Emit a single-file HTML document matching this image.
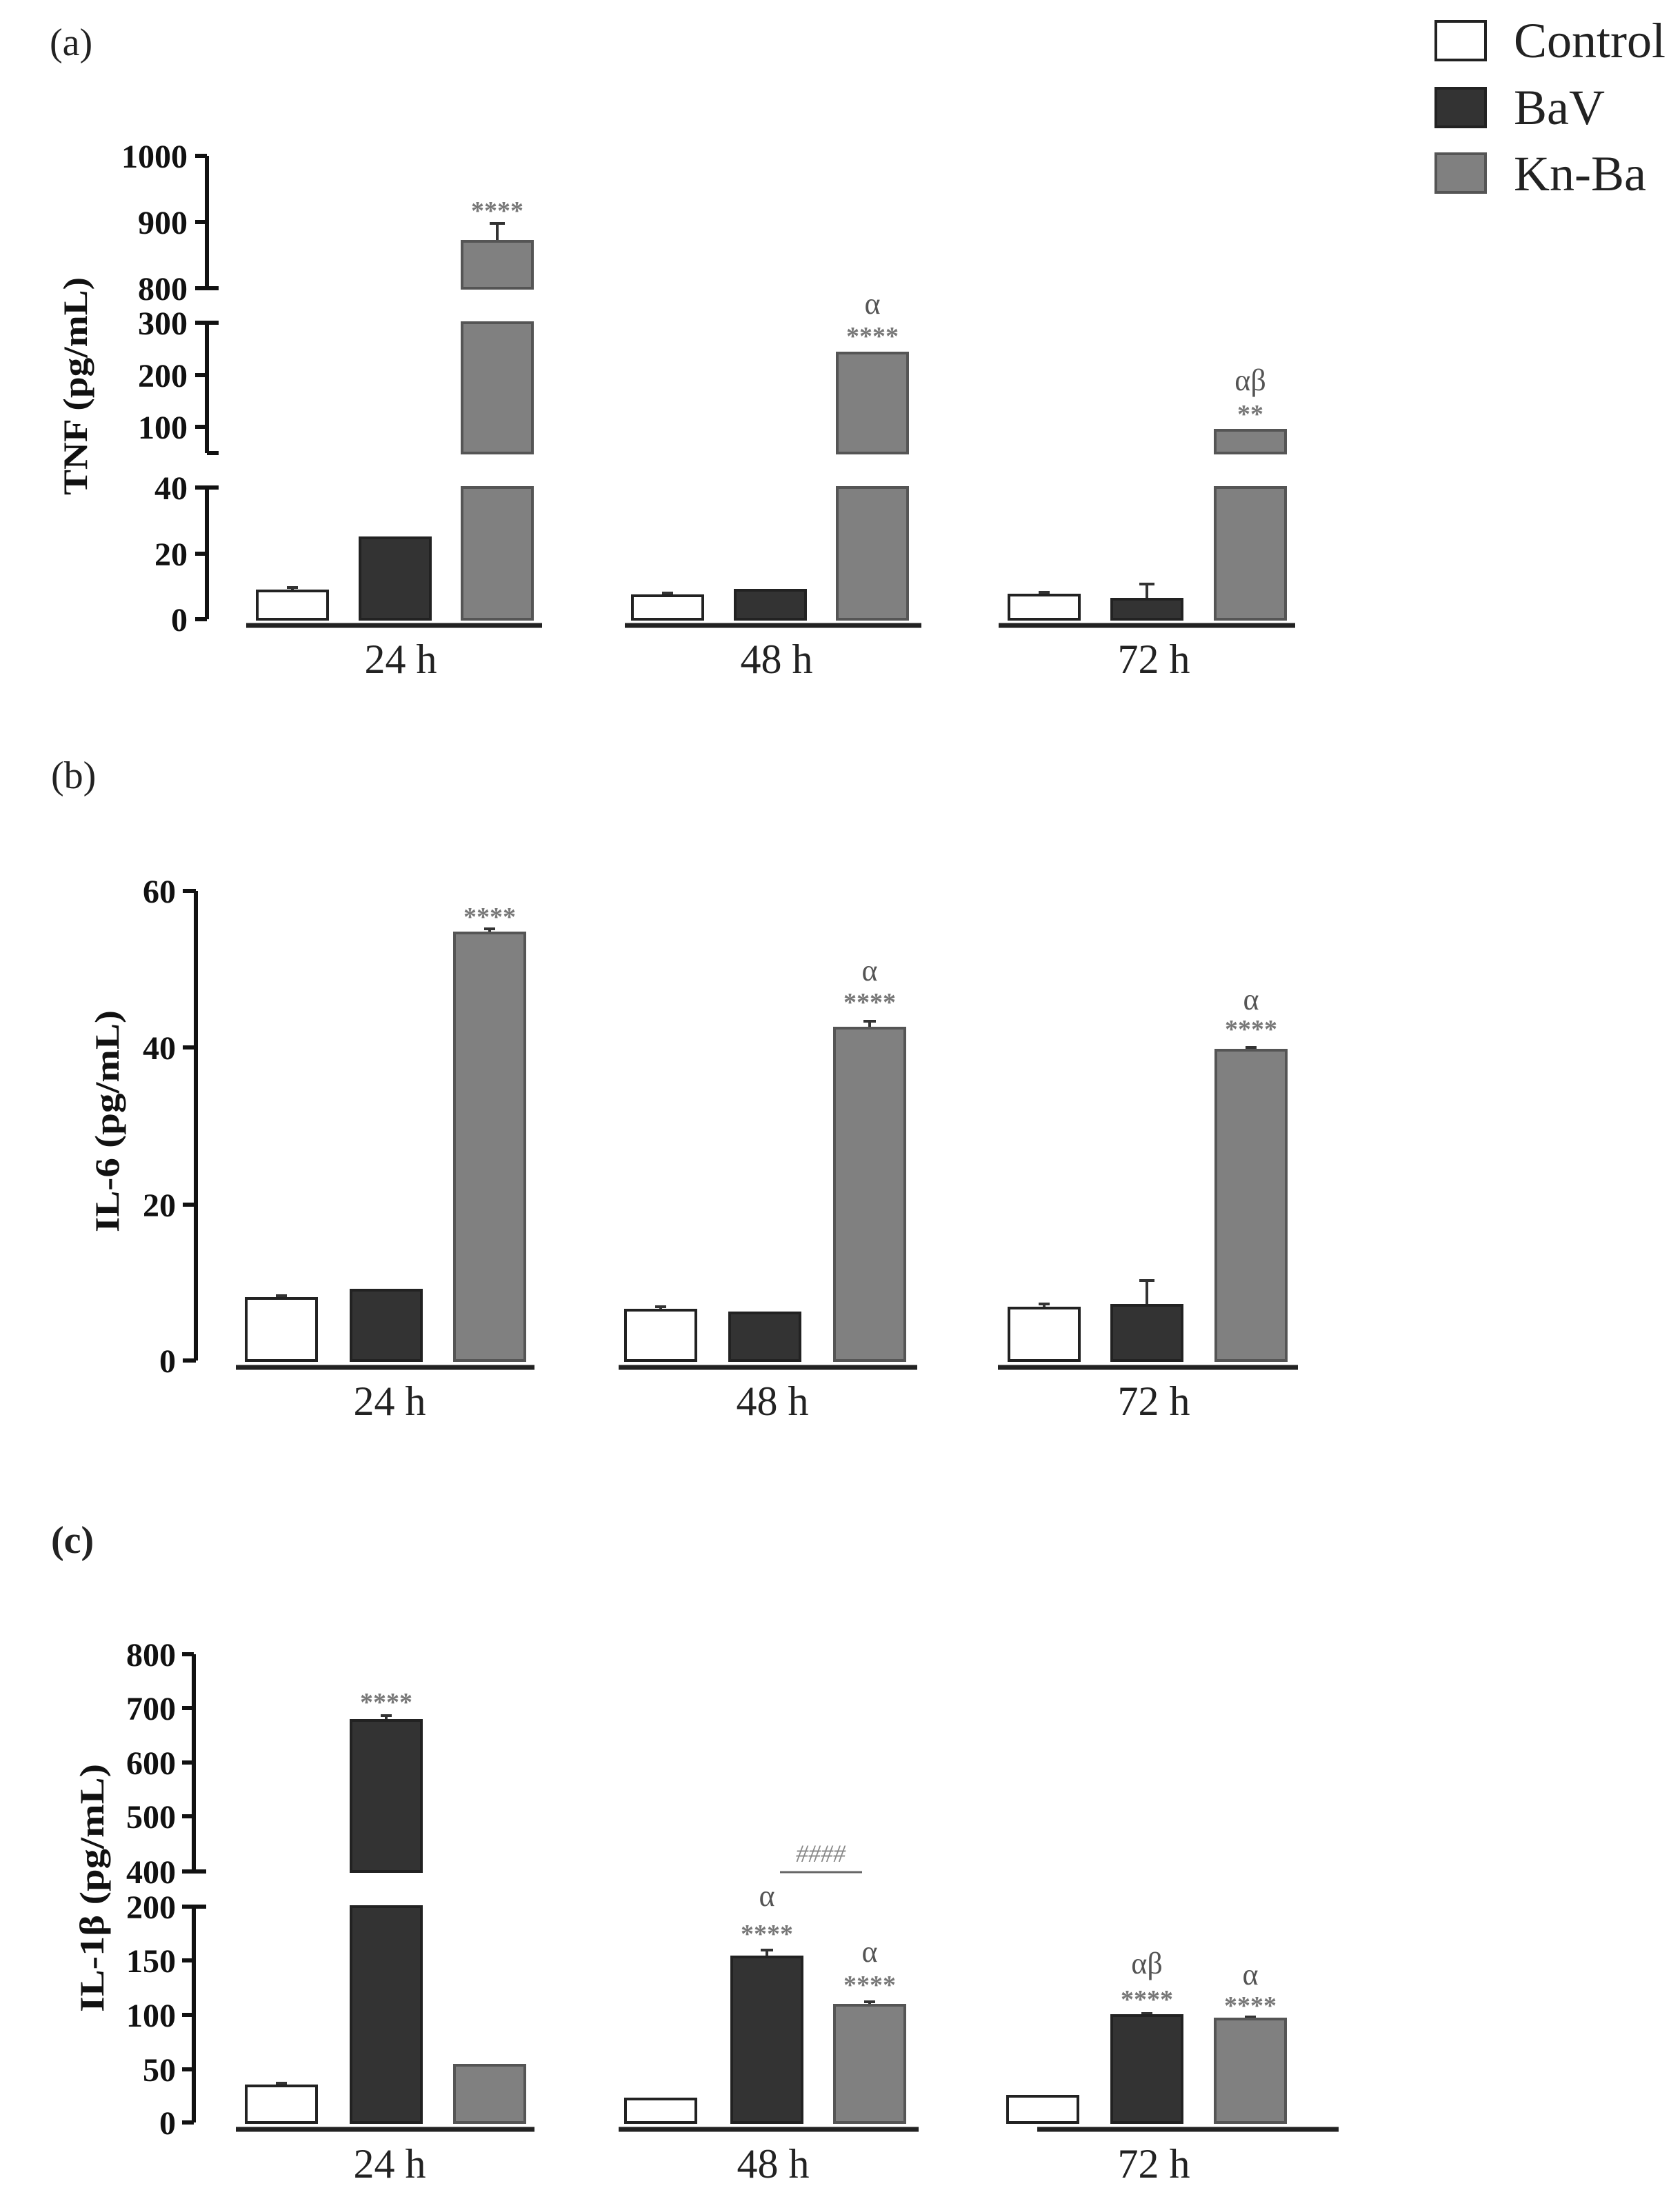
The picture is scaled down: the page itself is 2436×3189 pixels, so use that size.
<!DOCTYPE html>
<html><head><meta charset="utf-8"><style>
html,body{margin:0;padding:0;background:#fff}
svg{display:block}
text{font-family:"Liberation Serif",serif}
.tk{font-size:48px;font-weight:bold;text-anchor:end;fill:#111}
.gl{font-size:60px;text-anchor:middle;fill:#222}
.st{font-size:38px;text-anchor:middle;fill:#777;font-weight:bold}
.al{font-size:44px;text-anchor:middle;fill:#555}
.yt{font-size:50px;font-weight:bold;fill:#111;text-anchor:middle}
.C{fill:#fff;stroke:#222;stroke-width:4}
.B{fill:#333;stroke:#222;stroke-width:4}
.K{fill:#808080;stroke:#555;stroke-width:4}
.ax{stroke:#111;stroke-width:6;fill:none}
.bl{stroke:#222;stroke-width:7}
.eb{stroke:#333;stroke-width:4;fill:none}
</style></head><body>
<svg width="2436" height="3189" viewBox="0 0 2436 3189" xmlns="http://www.w3.org/2000/svg">
<!-- Legend -->
<rect x="2082" y="31" width="72" height="56" class="C"/>
<rect x="2082" y="128" width="72" height="56" class="B"/>
<rect x="2082" y="223" width="72" height="56" class="K"/>
<text x="2195" y="83" style="font-size:72px;fill:#222">Control</text>
<text x="2195" y="180" style="font-size:72px;fill:#222">BaV</text>
<text x="2195" y="276" style="font-size:72px;fill:#222">Kn-Ba</text>

<!-- Panel a -->
<text x="72" y="80" style="font-size:56px;fill:#222">(a)</text>
<text class="yt" transform="translate(126,560) rotate(-90)" textLength="316" lengthAdjust="spacingAndGlyphs">TNF (pg/mL)</text>
<path class="ax" d="M300 226V418 M300 468V657 M300 707V898"/>
<path class="ax" d="M283 226H300 M283 322H300 M283 418H317 M283 468H317 M283 544H300 M283 619H300 M300 657H317 M283 707H317 M283 803H300 M283 898H300"/>
<text class="tk" x="272" y="243">1000</text>
<text class="tk" x="272" y="339">900</text>
<text class="tk" x="272" y="435">800</text>
<text class="tk" x="272" y="485">300</text>
<text class="tk" x="272" y="561">200</text>
<text class="tk" x="272" y="636">100</text>
<text class="tk" x="272" y="724">40</text>
<text class="tk" x="272" y="820">20</text>
<text class="tk" x="272" y="915">0</text>
<!-- 24h -->
<path class="eb" d="M424 857V852 M416 852H432"/>
<rect x="373" y="857" width="102" height="41" class="C"/>
<rect x="522" y="780" width="102" height="118" class="B"/>
<path class="eb" d="M721 350V324 M710 324H732"/>
<rect x="670" y="350" width="102" height="68" class="K"/>
<rect x="670" y="468" width="102" height="189" class="K"/>
<rect x="670" y="707" width="102" height="191" class="K"/>
<text class="st" x="721" y="318">****</text>
<!-- 48h -->
<path class="eb" d="M968 864V860 M960 860H976"/>
<rect x="917" y="864" width="102" height="34" class="C"/>
<rect x="1066" y="856" width="102" height="42" class="B"/>
<rect x="1214" y="512" width="102" height="145" class="K"/>
<rect x="1214" y="707" width="102" height="191" class="K"/>
<text class="st" x="1265" y="500">****</text>
<text class="al" x="1265" y="455">α</text>
<!-- 72h -->
<path class="eb" d="M1514 863V859 M1506 859H1522"/>
<rect x="1463" y="863" width="102" height="35" class="C"/>
<path class="eb" d="M1663 869V847 M1652 847H1674"/>
<rect x="1612" y="869" width="102" height="29" class="B"/>
<rect x="1762" y="624" width="102" height="33" class="K"/>
<rect x="1762" y="707" width="102" height="191" class="K"/>
<text class="st" x="1813" y="613">**</text>
<text class="al" x="1813" y="566">αβ</text>
<path class="bl" d="M357 907H786 M906 907H1336 M1448 907H1878"/>
<text class="gl" x="581" y="976">24 h</text>
<text class="gl" x="1126" y="976">48 h</text>
<text class="gl" x="1673" y="976">72 h</text>

<!-- Panel b -->
<text x="74" y="1143" style="font-size:56px;fill:#222">(b)</text>
<text class="yt" transform="translate(172,1626) rotate(-90)" textLength="322" lengthAdjust="spacingAndGlyphs">IL-6 (pg/mL)</text>
<path class="ax" d="M284 1292V1973 M265 1292H284 M265 1519H284 M265 1747H284 M265 1973H284"/>
<text class="tk" x="255" y="1309">60</text>
<text class="tk" x="255" y="1536">40</text>
<text class="tk" x="255" y="1764">20</text>
<text class="tk" x="255" y="1990">0</text>
<path class="eb" d="M408 1883V1879 M400 1879H416"/>
<rect x="357" y="1883" width="102" height="90" class="C"/>
<rect x="509" y="1871" width="102" height="102" class="B"/>
<path class="eb" d="M710 1353V1347 M702 1347H718"/>
<rect x="659" y="1353" width="102" height="620" class="K"/>
<text class="st" x="710" y="1342">****</text>
<path class="eb" d="M958 1900V1895 M950 1895H966"/>
<rect x="907" y="1900" width="102" height="73" class="C"/>
<rect x="1058" y="1904" width="102" height="69" class="B"/>
<path class="eb" d="M1261 1491V1481 M1252 1481H1270"/>
<rect x="1210" y="1491" width="102" height="482" class="K"/>
<text class="st" x="1261" y="1466">****</text>
<text class="al" x="1261" y="1422">α</text>
<path class="eb" d="M1514 1897V1891 M1506 1891H1522"/>
<rect x="1463" y="1897" width="102" height="76" class="C"/>
<path class="eb" d="M1663 1893V1857 M1652 1857H1674"/>
<rect x="1612" y="1893" width="102" height="80" class="B"/>
<path class="eb" d="M1814 1523V1519 M1806 1519H1822"/>
<rect x="1763" y="1523" width="102" height="450" class="K"/>
<text class="st" x="1814" y="1505">****</text>
<text class="al" x="1814" y="1464">α</text>
<path class="bl" d="M342 1983H775 M897 1983H1330 M1447 1983H1882"/>
<text class="gl" x="565" y="2052">24 h</text>
<text class="gl" x="1120" y="2052">48 h</text>
<text class="gl" x="1673" y="2052">72 h</text>

<!-- Panel c -->
<text x="74" y="2252" style="font-size:56px;font-weight:bold;fill:#222">(c)</text>
<text class="yt" transform="translate(150,2738) rotate(-90)" textLength="360" lengthAdjust="spacingAndGlyphs">IL-1β (pg/mL)</text>
<path class="ax" d="M281 2399V2714 M281 2765V3078"/>
<path class="ax" d="M264 2399H281 M264 2477H281 M264 2556H281 M264 2634H281 M264 2714H299 M264 2765H299 M264 2843H281 M264 2922H281 M264 3001H281 M264 3078H281"/>
<text class="tk" x="255" y="2416">800</text>
<text class="tk" x="255" y="2494">700</text>
<text class="tk" x="255" y="2573">600</text>
<text class="tk" x="255" y="2651">500</text>
<text class="tk" x="255" y="2731">400</text>
<text class="tk" x="255" y="2782">200</text>
<text class="tk" x="255" y="2860">150</text>
<text class="tk" x="255" y="2939">100</text>
<text class="tk" x="255" y="3018">50</text>
<text class="tk" x="255" y="3095">0</text>
<path class="eb" d="M408 3025V3021 M400 3021H416"/>
<rect x="357" y="3025" width="102" height="53" class="C"/>
<path class="eb" d="M560 2495V2488 M552 2488H568"/>
<rect x="509" y="2495" width="102" height="219" class="B"/>
<rect x="509" y="2765" width="102" height="313" class="B"/>
<rect x="659" y="2995" width="102" height="83" class="K"/>
<text class="st" x="560" y="2481">****</text>
<rect x="907" y="3044" width="102" height="34" class="C"/>
<path class="eb" d="M1112 2838V2828 M1103 2828H1121"/>
<rect x="1061" y="2838" width="102" height="240" class="B"/>
<text class="st" x="1112" y="2817">****</text>
<text class="al" x="1112" y="2764">α</text>
<path class="eb" d="M1261 2908V2903 M1253 2903H1269"/>
<rect x="1210" y="2908" width="102" height="170" class="K"/>
<text class="st" x="1261" y="2891">****</text>
<text class="al" x="1261" y="2845">α</text>
<path d="M1131 2715H1250" stroke="#666" stroke-width="3"/>
<text x="1190" y="2700" style="font-size:36px;font-style:italic;fill:#888;text-anchor:middle">####</text>
<rect x="1461" y="3040" width="102" height="38" class="C"/>
<path class="eb" d="M1663 2923V2920 M1655 2920H1671"/>
<rect x="1612" y="2923" width="102" height="155" class="B"/>
<text class="st" x="1663" y="2912">****</text>
<text class="al" x="1663" y="2862">αβ</text>
<path class="eb" d="M1813 2928V2925 M1805 2925H1821"/>
<rect x="1762" y="2928" width="102" height="150" class="K"/>
<text class="st" x="1813" y="2921">****</text>
<text class="al" x="1813" y="2878">α</text>
<path class="bl" d="M342 3088H775 M897 3088H1332 M1504 3088H1941"/>
<text class="gl" x="565" y="3158">24 h</text>
<text class="gl" x="1121" y="3158">48 h</text>
<text class="gl" x="1673" y="3158">72 h</text>
</svg>
</body></html>
